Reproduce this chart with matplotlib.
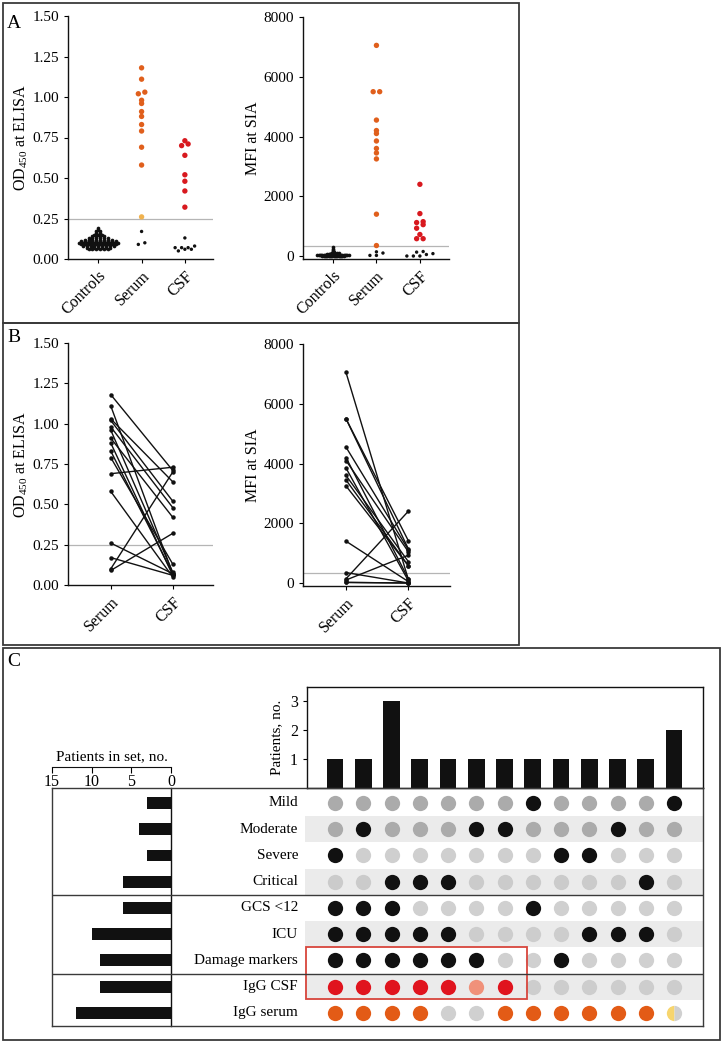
import matplotlib.pyplot as plt
import numpy as np
from matplotlib.patches import Rectangle

plt.rcParams['font.family'] = ['Liberation Serif', 'DejaVu Serif']
plt.rcParams['mathtext.default'] = 'regular'

W, H = 724, 1044

# ---------------- panel A / B data (same patient order in serum and csf) ----------------
groups_a = ['Controls', 'Serum', 'CSF']
groups_b = ['Serum', 'CSF']

controls_od = [
    0.19, 0.18, 0.17, 0.17, 0.16, 0.16, 0.15, 0.15, 0.15, 0.14,
    0.14, 0.14, 0.14, 0.13, 0.13, 0.13, 0.13, 0.13, 0.13, 0.12,
    0.12, 0.12, 0.12, 0.12, 0.12, 0.12, 0.12, 0.11, 0.11, 0.11,
    0.11, 0.11, 0.11, 0.11, 0.11, 0.11, 0.11, 0.10, 0.10, 0.10,
    0.10, 0.10, 0.10, 0.10, 0.10, 0.10, 0.10, 0.10, 0.09, 0.09,
    0.09, 0.09, 0.09, 0.09, 0.09, 0.09, 0.09, 0.09, 0.08, 0.08,
    0.08, 0.08, 0.08, 0.08, 0.08, 0.08, 0.08, 0.07, 0.07, 0.07,
    0.07, 0.07, 0.07, 0.07, 0.06, 0.06, 0.06, 0.06, 0.06, 0.06]
serum_od = [1.18, 1.11, 1.03, 1.02, 0.98, 0.96, 0.91, 0.88, 0.83, 0.79, 0.69, 0.58, 0.26, 0.17, 0.10, 0.09]
csf_od = [0.71, 0.07, 0.64, 0.52, 0.48, 0.08, 0.42, 0.06, 0.07, 0.13, 0.73, 0.05, 0.07, 0.06, 0.70, 0.32]
od_cutoff = 0.25

controls_mfi = [
    300, 240, 190, 160, 140, 120, 110, 100, 100, 90,
    90, 80, 80, 80, 80, 70, 70, 70, 70, 60,
    60, 60, 60, 60, 60, 50, 50, 50, 50, 50,
    50, 50, 40, 40, 40, 40, 40, 40, 40, 40,
    40, 30, 30, 30, 30, 30, 30, 30, 30, 30,
    30, 20, 20, 20, 20, 20, 20, 20, 20, 20,
    20, 20, 10, 10, 10, 10, 10, 10, 10, 10,
    10, 10, 0, 0, 0, 0, 0, 0, 0, 0]
serum_mfi = [7050, 5500, 5500, 4550, 4200, 4100, 3850, 3600, 3450, 3250, 1400, 350, 140, 100, 20, 20]
csf_mfi = [130, 1420, 1150, 1120, 150, 1050, 80, 720, 580, 580, 50, 0, 2400, 930, 0, 0]
mfi_cutoff = 330

# ---------------- panel C data ----------------
rows = ['Mild', 'Moderate', 'Severe', 'Critical', 'GCS <12', 'ICU',
        'Damage markers', 'IgG CSF', 'IgG serum']
set_sizes = [3, 4, 3, 6, 6, 10, 9, 9, 12]
combo_counts = [1, 1, 3, 1, 1, 1, 1, 1, 1, 1, 1, 1, 2]
# 0 = no, 1 = yes, 2 = borderline, 3 = mixed
membership = [
    [0, 0, 0, 0, 0, 0, 0, 1, 0, 0, 0, 0, 1],
    [0, 1, 0, 0, 0, 1, 1, 0, 0, 0, 1, 0, 0],
    [1, 0, 0, 0, 0, 0, 0, 0, 1, 1, 0, 0, 0],
    [0, 0, 1, 1, 1, 0, 0, 0, 0, 0, 0, 1, 0],
    [1, 1, 1, 0, 0, 0, 0, 1, 0, 0, 0, 0, 0],
    [1, 1, 1, 1, 1, 0, 0, 0, 0, 1, 1, 1, 0],
    [1, 1, 1, 1, 1, 1, 0, 0, 1, 0, 0, 0, 0],
    [1, 1, 1, 1, 1, 2, 1, 0, 0, 0, 0, 0, 0],
    [1, 1, 1, 1, 0, 0, 1, 1, 1, 1, 1, 1, 3]]
highlight_rows = [6, 7]
highlight_cols = [0, 6]

ORANGE = '#e05f1c'
RED = '#d8191f'
BORDER = '#f0b24e'
INK = '#111111'
FRAME = '#3a3a3a'


def box(x0, y0, x1, y1):
    return [x0 / W, 1 - y1 / H, (x1 - x0) / W, (y1 - y0) / H]


def spread(vals, bin_size, step, max_half=None):
    v = np.asarray(vals, float)
    b = np.round(v / bin_size).astype(int)
    off = np.zeros(len(v))
    for k in np.unique(b):
        idx = np.where(b == k)[0]
        idx = idx[np.argsort(v[idx])]
        off[idx] = (np.arange(len(idx)) - (len(idx) - 1) / 2) * step
    if max_half:
        off *= max_half / max(np.abs(off).max(), 1e-9)
    return off


def colours(vals, cut, pos, border=None):
    out = []
    for v in vals:
        if v <= cut:
            out.append(INK)
        elif border is not None and v < cut * 1.2:
            out.append(border)
        else:
            out.append(pos)
    return out


def style(ax, ylabel, labels):
    for s in ['top', 'right']:
        ax.spines[s].set_visible(False)
    for s in ['left', 'bottom']:
        ax.spines[s].set_linewidth(1.0)
        ax.spines[s].set_color(INK)
    ax.set_xticks(range(len(labels)))
    ax.set_xticklabels(labels, rotation=45, ha='right', rotation_mode='anchor', fontsize=11.5)
    ax.tick_params(axis='y', labelsize=11, length=3, width=0.8)
    ax.tick_params(axis='x', length=3, width=0.8)
    ax.set_ylabel(ylabel, fontsize=11.5, labelpad=2)
    ax.patch.set_alpha(0)


fig = plt.figure(figsize=(W / 100, H / 100), dpi=100)

# panel frames
for (x0, y0, x1, y1) in [(3, 3, 519, 323), (3, 323, 519, 645), (3, 648, 720, 1040)]:
    fig.add_artist(Rectangle((x0 / W, 1 - y1 / H), (x1 - x0) / W, (y1 - y0) / H,
                             transform=fig.transFigure, fill=False, ec=FRAME, lw=1.3))
for letter, y in [('A', 23), ('B', 337), ('C', 662)]:
    fig.text(14 / W, 1 - y / H, letter, fontsize=14, va='center', ha='center')

# ---------------- panel A ----------------
ax = fig.add_axes(box(68, 16, 213, 259))
ax.axhline(od_cutoff, color='#b5b5b5', lw=0.9, zorder=0)
ax.scatter(0 + spread(controls_od, 0.01, 1, 0.45), controls_od, s=7, color=INK, lw=0)
for i, (vals, col, border) in enumerate([(serum_od, ORANGE, BORDER), (csf_od, RED, None)], start=1):
    c = colours(vals, od_cutoff, col, border)
    sizes = [6 if cc == INK else 15 for cc in c]
    ax.scatter(i + spread(vals, 0.025, 0.15), vals, s=sizes, c=c, lw=0)
ax.set_xlim(-0.7, 2.65)
ax.set_ylim(0, 1.5)
ax.set_yticks([0, 0.25, 0.5, 0.75, 1.0, 1.25, 1.5])
ax.set_yticklabels(['%.2f' % t for t in ax.get_yticks()])
style(ax, 'OD$_{450}$ at ELISA', groups_a)

ax = fig.add_axes(box(303, 17, 449, 259))
ax.axhline(mfi_cutoff, color='#b5b5b5', lw=0.9, zorder=0)
ax.scatter(0 + spread(controls_mfi, 20, 1, 0.36), controls_mfi, s=7, color=INK, lw=0)
for i, (vals, col) in enumerate([(serum_mfi, ORANGE), (csf_mfi, RED)], start=1):
    c = colours(vals, mfi_cutoff, col)
    sizes = [6 if cc == INK else 15 for cc in c]
    ax.scatter(i + spread(vals, 200, 0.15), vals, s=sizes, c=c, lw=0)
ax.set_xlim(-0.69, 2.67)
ax.set_ylim(-100, 8000)
ax.set_yticks([0, 2000, 4000, 6000, 8000])
style(ax, 'MFI at SIA', groups_a)

# ---------------- panel B ----------------
ax = fig.add_axes(box(68, 343, 213, 585))
ax.axhline(od_cutoff, color='#b5b5b5', lw=0.9, zorder=0)
for s, c in zip(serum_od, csf_od):
    ax.plot([0, 1], [s, c], '-o', color=INK, lw=1.0, ms=2.2)
ax.set_xlim(-0.69, 1.65)
ax.set_ylim(0, 1.5)
ax.set_yticks([0, 0.25, 0.5, 0.75, 1.0, 1.25, 1.5])
ax.set_yticklabels(['%.2f' % t for t in ax.get_yticks()])
style(ax, 'OD$_{450}$ at ELISA', groups_b)

ax = fig.add_axes(box(303, 344, 450, 586))
ax.axhline(mfi_cutoff, color='#b5b5b5', lw=0.9, zorder=0)
for s, c in zip(serum_mfi, csf_mfi):
    ax.plot([0, 1], [s, c], '-o', color=INK, lw=1.0, ms=2.2)
ax.set_xlim(-0.69, 1.67)
ax.set_ylim(-100, 8000)
ax.set_yticks([0, 2000, 4000, 6000, 8000])
style(ax, 'MFI at SIA', groups_b)

# ---------------- panel C ----------------
n_rows = len(rows)
n_cols = len(combo_counts)
col0_px, col_step_px = 335, 28.25


def col_lim(x0, x1):
    return ((x0 - col0_px) / col_step_px, (x1 - col0_px) / col_step_px)


row_lim = (n_rows - 0.5, -0.57)

# combination bars on top
ax = fig.add_axes(box(307, 687, 703, 788))
ax.bar(range(n_cols), combo_counts, width=0.6, color=INK)
ax.set_xlim(*col_lim(307, 703))
ax.set_ylim(0, 3.48)
ax.set_xticks([])
ax.set_yticks([1, 2, 3])
ax.tick_params(axis='y', labelsize=11.5, length=3, width=0.8)
ax.set_ylabel('Patients, no.', fontsize=11, labelpad=5)
for s in ax.spines.values():
    s.set_color(INK)
    s.set_linewidth(1.0)
ax.patch.set_alpha(0)

# matrix
mx = fig.add_axes(box(305, 788, 703, 1026))
mx.set_xlim(*col_lim(305, 703))
mx.set_ylim(*row_lim)
mx.axis('off')
for r in range(1, n_rows, 2):
    mx.axhspan(r - 0.5, r + 0.5, color='#ebebeb', lw=0, zorder=0)
absent = ['#ababab', '#ababab', '#cfcfcf', '#cbcbcb', '#d0d0d0', '#cdcdcd', '#d0d0d0', '#cdcdcd', '#d0d0d0']
present = [INK] * 7 + ['#e0141e', '#e35b16']
borderline = {7: '#f0917a', 8: '#f7d56e'}
for r in range(n_rows):
    for c in range(n_cols):
        m = membership[r][c]
        kw = dict(ms=11, mew=0, ls='none', marker='o')
        if m == 1:
            mx.plot(c, r, color=present[r], **kw)
        elif m == 2:
            mx.plot(c, r, color=borderline[r], **kw)
        elif m == 3:
            mx.plot(c, r, fillstyle='left', markerfacecolor=borderline[r],
                    markerfacecoloralt=absent[r], **kw)
        else:
            mx.plot(c, r, color=absent[r], **kw)
mx.add_patch(Rectangle((col_lim(305, 703)[0] + 0.03, highlight_rows[0] - 0.5),
                       highlight_cols[1] + 0.78 - (col_lim(305, 703)[0] + 0.03),
                       highlight_rows[-1] - highlight_rows[0] + 0.97,
                       fill=False, ec='#d8453c', lw=1.3, zorder=5))

# left set-size bars
lx = fig.add_axes(box(52, 788, 171, 1026))
lx.barh(range(n_rows), set_sizes, height=0.45, color=INK)
lx.set_xlim(15, 0)
lx.set_ylim(*row_lim)
lx.set_xticks([])
lx.set_yticks([])
for s in ['left', 'top', 'bottom']:
    lx.spines[s].set_visible(False)
lx.spines['right'].set_color(INK)
lx.spines['right'].set_linewidth(1.0)
lx.patch.set_alpha(0)

# scale for set-size bars
tx = fig.add_axes([52 / W, 1 - 767 / H, 119 / W, 0.0001])
tx.set_xlim(15, 0)
tx.set_xticks([15, 10, 5, 0])
tx.set_yticks([])
for s in ['left', 'top', 'right']:
    tx.spines[s].set_visible(False)
tx.spines['bottom'].set_color(INK)
tx.tick_params(axis='x', labelsize=11.5, length=4, width=0.8, pad=1)
tx.set_title('Patients in set, no.', fontsize=11, pad=5)

# frame, separators and labels
bg = fig.add_axes(box(52, 788, 703, 1026))
bg.set_xlim(52, 703)
bg.set_ylim(*row_lim)
bg.set_xticks([])
bg.set_yticks([])
bg.patch.set_alpha(0)
bg.set_zorder(5)
for s in bg.spines.values():
    s.set_color(FRAME)
    s.set_linewidth(1.0)
for y in [3.5, 6.5]:
    bg.axhline(y, color=FRAME, lw=1.0)
for r, name in enumerate(rows):
    bg.text(298, r, name, ha='right', va='center', fontsize=11)

fig.savefig('out.png', dpi=100)
